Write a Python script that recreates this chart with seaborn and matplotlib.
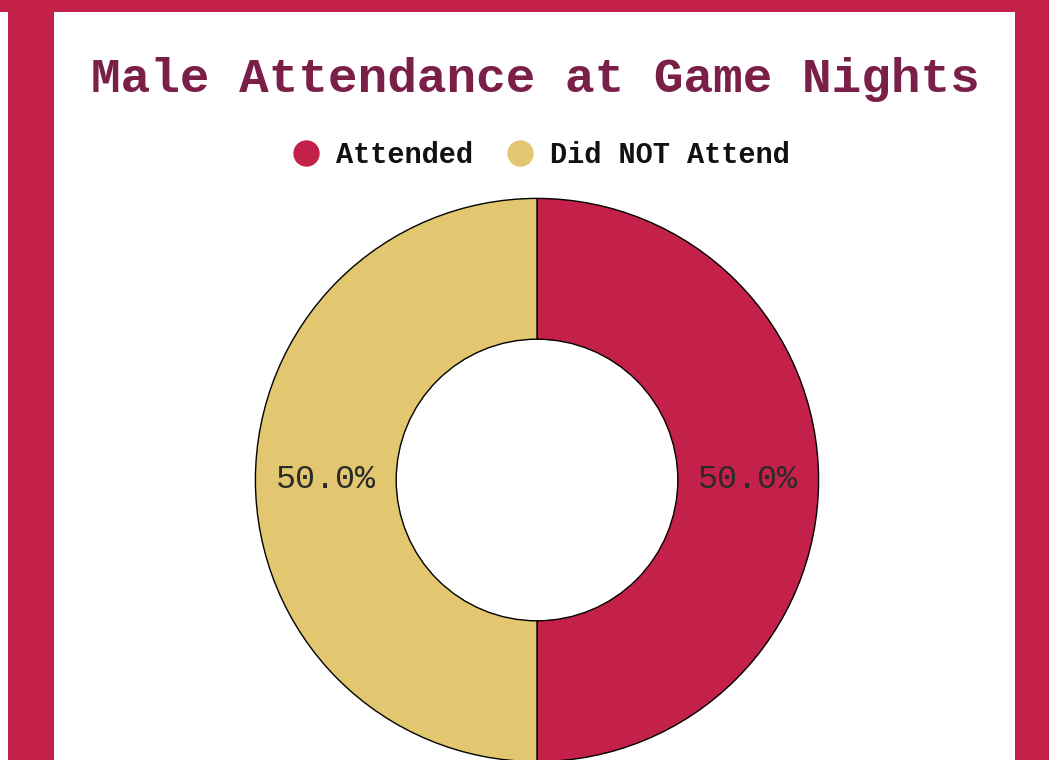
import matplotlib
matplotlib.use("Agg")
import matplotlib.pyplot as plt
from matplotlib.patches import Rectangle
from matplotlib.lines import Line2D
import seaborn as sns

categories = ["Attended", "Did NOT Attend"]
values = [50, 50]
colors = ["#C4214A", "#E2C770"]
title = "Male Attendance at Game Nights"

sns.set_theme(style="white")
plt.rcParams['font.family'] = ['Liberation Mono', 'DejaVu Sans Mono']

W, H = 1049, 760
fig = plt.figure(figsize=(W / 100, H / 100), dpi=100)
fig.patch.set_facecolor("white")

crimson = "#C4214A"
# background frame
fig.patches.append(Rectangle((0, (H - 12) / H), 1, 12 / H, transform=fig.transFigure,
                             facecolor=crimson, edgecolor="none", zorder=0))
fig.patches.append(Rectangle((8 / W, 0), 46 / W, 1, transform=fig.transFigure,
                             facecolor=crimson, edgecolor="none", zorder=0))
fig.patches.append(Rectangle((1015 / W, 0), 34 / W, 1, transform=fig.transFigure,
                             facecolor=crimson, edgecolor="none", zorder=0))

cx, cy, r = 537, 480, 283
ax = fig.add_axes([(cx - r) / W, (H - cy - r) / H, 2 * r / W, 2 * r / H])
ax.set_facecolor("none")
wedges, texts, autotexts = ax.pie(
    values, colors=colors, startangle=90, counterclock=False,
    autopct="%1.1f%%", pctdistance=0.75, radius=1,
    wedgeprops=dict(width=0.5, edgecolor="black", linewidth=1),
    textprops=dict(fontsize=24, color="#2a2a2a", family=['Liberation Mono']))
ax.set_xlim(-1.005, 1.005)
ax.set_ylim(-1.005, 1.005)
ax.set_aspect("equal")
ax.axis("off")

fig.text(535 / W, 1 - 80 / H, title, ha="center", va="center", fontsize=35.6,
         fontweight="bold", color="#7A1F47", family=['Liberation Mono'])

handles = [Line2D([0], [0], marker="o", linestyle="none", markersize=18,
                  markerfacecolor=c, markeredgecolor=c) for c in colors]
leg = fig.legend(handles, categories, loc="center", bbox_to_anchor=(537 / W, 1 - 155 / H),
                 ncol=2, frameon=False,
                 prop=dict(family='Liberation Mono', weight='bold', size=20.6),
                 handletextpad=0.3, columnspacing=0.9, handlelength=1.5)
for t in leg.get_texts():
    t.set_color("#111111")

fig.savefig("out.png", dpi=100)
